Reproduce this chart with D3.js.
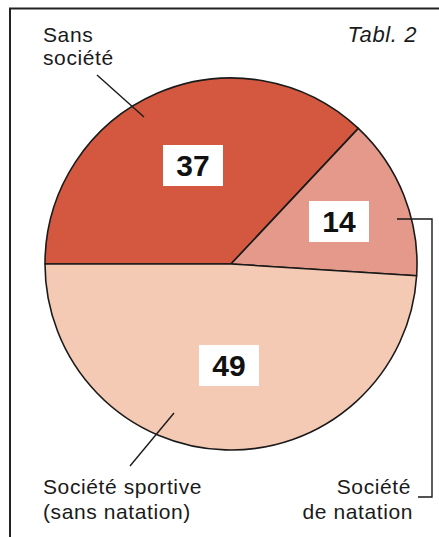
<!DOCTYPE html>
<html><head><meta charset="utf-8">
<script src="https://cdn.jsdelivr.net/npm/d3@7"></script>
<style>body{margin:0;background:#fff}svg{display:block}</style>
</head><body>
<script>
const categories = ["Sans société", "Société de natation", "Société sportive (sans natation)"];
const values = [37, 14, 49];
const colors = ["#d4583f", "#e4998a", "#f5cab5"];
const valueLabels = ["37", "14", "49"];

const W = 439, H = 537;
const svg = d3.select("body").append("svg").attr("width", W).attr("height", H);
const font = "'Liberation Sans', Arial, Helvetica, sans-serif";

// frame
svg.append("path").attr("d", `M10,${H} L10,8.5 L${W},8.5`).attr("fill", "none").attr("stroke", "#222").attr("stroke-width", 2);

const cx = 231, cy = 264, r = 186;
const g = svg.append("g").attr("transform", `translate(${cx},${cy})`);
const pie = d3.pie().sort(null).value(d => d).startAngle(-Math.PI / 2).endAngle(1.5 * Math.PI);
const arcs = pie(values);
const arc = d3.arc().innerRadius(0).outerRadius(r);
g.selectAll("path.slice").data(arcs).enter().append("path")
  .attr("class", "slice").attr("d", arc)
  .attr("fill", (d, i) => colors[i]).attr("stroke", "#1a1a1a").attr("stroke-width", 1.6).attr("stroke-linejoin", "round");

// value boxes
const boxPos = [[-38, -99], [108, -43], [-2, 101]];
arcs.forEach((d, i) => {
  const [x, y] = boxPos[i];
  g.append("rect").attr("x", x - 30).attr("y", y - 20).attr("width", 60).attr("height", 41).attr("fill", "#fff");
  g.append("text").attr("x", x).attr("y", y + 11).attr("text-anchor", "middle")
    .attr("font-family", font).attr("font-weight", "bold").attr("font-size", 30).attr("fill", "#111")
    .text(valueLabels[i]);
});

const txt = (x, y, s, anchor, extra) => {
  const t = svg.append("text").attr("x", x).attr("y", y).attr("text-anchor", anchor || "start")
    .attr("font-family", font).attr("font-size", 21).attr("letter-spacing", 0.6).attr("fill", "#1a1a1a").text(s);
  if (extra) extra(t);
  return t;
};
txt(417, 42, "Tabl. 2", "end", t => t.attr("font-style", "italic").attr("font-size", 22));
txt(43, 42, "Sans");
txt(43, 65, "société");
txt(43, 494, "Société sportive");
txt(43, 519, "(sans natation)");
txt(411, 494, "Société", "end");
txt(413, 519, "de natation", "end");

const line = (pts) => svg.append("path").attr("d", d3.line()(pts)).attr("fill", "none").attr("stroke", "#1a1a1a").attr("stroke-width", 1.4);
line([[97, 75], [144, 117]]);
line([[130, 466], [174, 413]]);
line([[397, 219], [432, 219], [432, 497], [418, 497]]);
</script>
</body></html>
